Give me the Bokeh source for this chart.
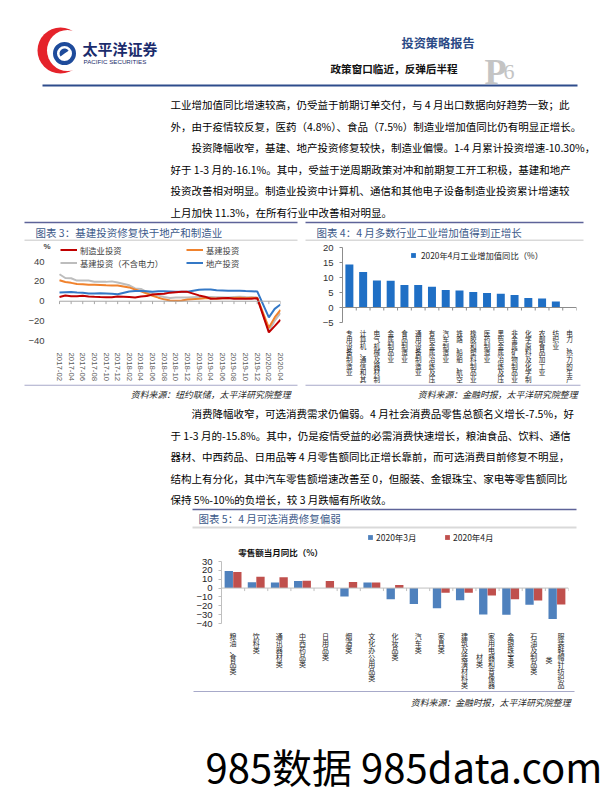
from bokeh.plotting import figure
from bokeh.models import (Range1d, ColumnDataSource, Legend, LegendItem, Label, LabelSet,
                          FixedTicker)
from bokeh.layouts import column, row
from bokeh.embed import file_html
from bokeh.resources import INLINE
from bokeh.core.properties import value
from bokeh.transform import dodge

# ---------------------------------------------------------------- data
header_title = "投资策略报告"
header_subtitle = "政策窗口临近，反弹后半程"
page_letter = "P"
page_number = "6"
logo_cn = "太平洋证券"
logo_en = "PACIFIC SECURITIES"

para1_lines = [
    "工业增加值同比增速较高，仍受益于前期订单交付，与 4 月出口数据向好趋势一致；此",
    "外，由于疫情较反复，医药（4.8%）、食品（7.5%）制造业增加值同比仍有明显正增长。",
    "投资降幅收窄，基建、地产投资修复较快，制造业偏慢。1-4 月累计投资增速-10.30%，",
    "好于 1-3 月的-16.1%。其中，受益于逆周期政策对冲和前期复工开工积极，基建和地产",
    "投资改善相对明显。制造业投资中计算机、通信和其他电子设备制造业投资累计增速较",
    "上月加快 11.3%，在所有行业中改善相对明显。",
]
para1_indent = [False, False, True, False, False, False]

para2_lines = [
    "消费降幅收窄，可选消费需求仍偏弱。4 月社会消费品零售总额名义增长-7.5%，好",
    "于 1-3 月的-15.8%。其中，仍是疫情受益的必需消费快速增长，粮油食品、饮料、通信",
    "器材、中西药品、日用品等 4 月零售额同比正增长靠前，而可选消费目前修复不明显，",
    "结构上有分化，其中汽车零售额增速改善至 0，但服装、金银珠宝、家电等零售额同比",
    "保持 5%-10%的负增长，较 3 月跌幅有所收敛。",
]
para2_indent = [True, False, False, False, False]

chart3_title = "图表 3：基建投资修复快于地产和制造业"
chart3_source = "资料来源：纽约联储，太平洋研究院整理"
chart3_unit = "%"
inv_months = [
    "2017-02", "2017-03", "2017-04", "2017-05", "2017-06", "2017-07", "2017-08",
    "2017-09", "2017-10", "2017-11", "2017-12",
    "2018-02", "2018-03", "2018-04", "2018-05", "2018-06", "2018-07", "2018-08",
    "2018-09", "2018-10", "2018-11", "2018-12",
    "2019-02", "2019-03", "2019-04", "2019-05", "2019-06", "2019-07", "2019-08",
    "2019-09", "2019-10", "2019-11", "2019-12",
    "2020-02", "2020-03", "2020-04",
]
inv_manufacturing = [4.3, 5.8, 5.0, 5.1, 5.5, 4.9, 4.5, 4.2, 4.1, 4.1, 4.8,
                     4.3, 3.8, 4.8, 5.2, 6.8, 7.3, 7.5, 8.7, 9.1, 9.5, 9.5,
                     5.9, 4.6, 2.5, 2.7, 3.0, 3.3, 2.6, 2.5, 2.6, 2.5, 3.1,
                     -31.5, -25.2, -18.8]
inv_infrastructure = [21.3, 19.5, 18.6, 17.5, 17.2, 16.8, 16.7, 16.4, 16.1, 16.0, 16.0,
                      14.0, 11.8, 10.0, 7.8, 5.5, 3.6, 1.9, 0.8, 0.5, 0.8, 1.8,
                      2.5, 3.0, 3.0, 2.6, 2.9, 2.9, 3.2, 3.4, 3.0, 3.5, 3.3,
                      -26.9, -16.4, -8.8]
inv_infra_ex_power = [27.3, 23.5, 23.3, 20.9, 21.1, 20.9, 19.8, 19.8, 19.6, 20.1, 19.0,
                      16.1, 13.0, 12.4, 9.4, 7.3, 5.7, 4.2, 3.3, 3.7, 3.7, 3.8,
                      4.3, 4.4, 4.4, 4.0, 4.1, 3.8, 4.2, 4.5, 4.2, 4.0, 3.8,
                      -30.3, -19.7, -11.8]
inv_real_estate = [8.9, 9.1, 9.3, 8.8, 8.5, 7.9, 7.9, 8.1, 7.8, 7.5, 7.0,
                   9.9, 10.4, 10.3, 10.2, 9.7, 10.2, 10.1, 9.9, 9.7, 9.7, 9.5,
                   11.6, 11.8, 11.9, 11.2, 10.9, 10.6, 10.5, 10.5, 10.3, 10.2, 9.9,
                   -16.3, -7.7, -3.3]
inv_series_names = ["制造业投资", "基建投资", "基建投资（不含电力）", "地产投资"]
inv_ticks = [-40, -20, 0, 20, 40]

chart4_title = "图表 4：4 月多数行业工业增加值得到正增长"
chart4_source = "资料来源：金融时报，太平洋研究院整理"
ind_legend = "2020年4月工业增加值同比（%）"
ind_names = ["专用设备制造业", "计算机、通信和其他电子设备制造业", "电气机械及器材制造业",
             "金属制品业", "食品制造业", "通用设备制造业", "有色金属冶炼及压延加工业",
             "汽车制造业", "铁路、船舶、航空航天和其他运输设备制造业", "橡胶和塑料制品业",
             "医药制造业", "黑色金属冶炼及压延加工业", "非金属矿物制品业",
             "化学原料及化学制品制造业", "农副食品加工业", "纺织业", "电力、热力的生产和供应业"]
ind_growth = [14.3, 11.8, 9.0, 8.9, 7.5, 7.5, 6.9, 5.8, 5.7, 5.2, 4.8, 4.6, 4.2, 3.2, 3.0, 2.0, -0.2]
ind_ticks = [-5, 0, 5, 10, 15, 20]

chart5_title = "图表 5：4 月可选消费修复偏弱"
chart5_source = "资料来源：金融时报，太平洋研究院整理"
retail_axis_title = "零售额当月同比（%）"
retail_series = ["2020年3月", "2020年4月"]
retail_cats = ["粮油、食品类", "饮料类", "通讯器材类", "中西药品类", "日用品类", "烟酒类",
               "文化办公用品类", "化妆品类", "汽车类", "家具类", "建筑及装潢材料类",
               "家用电器和音像器材类", "金银珠宝类", "石油及制品类", "服装鞋帽针纺织品类"]
retail_mar = [19.2, 6.5, 6.2, 8.0, 0.0, -9.5, 6.3, -12.6, -18.1, -22.7, -13.8, -29.7, -30.2, -18.9, -34.8]
retail_apr = [18.2, 12.7, 12.2, 8.3, 8.0, 6.8, 6.4, 3.5, 0.0, -5.4, -5.3, -8.5, -12.7, -14.0, -18.5]
retail_ticks = [-40, -30, -20, -10, 0, 10, 20, 30]

watermark = "985数据 985data.com"

# ---------------------------------------------------------------- styles
CJK = "Noto Sans CJK SC"
PAGE_W = 613
TITLE_BLUE = "#3D5A8A"
RULE_BLUE = "#5E6399"
BAND_GRAY = "#D9D9D9"
BOTTOM_RULE = "#A7A9C9"


def page_fig(top, height):
    p = figure(width=PAGE_W, height=height, x_range=Range1d(0, PAGE_W),
               y_range=Range1d(top + height, top), output_backend="svg",
               toolbar_location=None, x_axis_location=None, y_axis_location=None,
               min_border=0, title=None, frame_align=False)
    p.grid.visible = False
    p.outline_line_color = None
    return p


def txt(p, x, y, s, size, color="#000000", font=CJK, align="left",
        baseline="middle", style="normal"):
    p.text(x=[x], y=[y], text=[s], text_font=value(font), text_font_size=f"{size}px",
           text_color=color, text_align=align, text_baseline=baseline,
           text_font_style=style)


def hrule(p, x0, x1, y, color, width):
    p.segment(x0=[x0], y0=[y], x1=[x1], y1=[y], line_color=color, line_width=width)


def chart_fig(width, height, xr, yr, left, right, top, bottom, xaxis=True):
    p = figure(width=width, height=height, x_range=xr, y_range=yr,
               output_backend="svg", toolbar_location=None, title=None,
               x_axis_location="below" if xaxis else None,
               min_border_left=left, min_border_right=right,
               min_border_top=top, min_border_bottom=bottom, frame_align=False)
    p.grid.visible = False
    p.outline_line_color = None
    return p


BODY_X = 170
BODY_SIZE = 10.5
LINE_STEP = 21.5
ROW_TOP, ROW_BOTTOM = 241, 384

# ---------------------------------------------------------------- top block (page y 0..241)
top = page_fig(0, ROW_TOP)
top.circle(x=[60], y=[50], radius=23, fill_color="#E5232B", line_color=None)
top.circle(x=[67], y=[50], radius=20.5, fill_color="white", line_color=None)
top.circle(x=[64], y=[53], radius=9.5, fill_color=None, line_color="#1E4B9B", line_width=4)
top.wedge(x=[64], y=[53], radius=5, start_angle=0.6, end_angle=3.8,
          fill_color="#1E4B9B", line_color=None)
txt(top, 82, 48, logo_cn, 15, "#1B2C6C", style="bold")
txt(top, 83, 61, logo_en, 6.2, "#1B2C6C", font="Liberation Sans")
txt(top, 401, 42, header_title, 12.2, "#2B4A86", style="bold")
txt(top, 330, 68, header_subtitle, 10.6, "#111111", style="bold")
txt(top, 484, 71, page_letter, 36, "#C4C4C4", font="Liberation Serif",
    baseline="alphabetic", style="bold")
txt(top, 503, 71, page_number, 22, "#C4C4C4", font="Liberation Serif",
    baseline="alphabetic")
hrule(top, 42, 577, 85, "#2E4C8C", 2.2)
for i, (line, ind) in enumerate(zip(para1_lines, para1_indent)):
    txt(top, BODY_X + (2 * BODY_SIZE if ind else 0), 104 + LINE_STEP * i, line, BODY_SIZE)
for x0, x1, title, tx in [(24, 297, chart3_title, 35), (305, 583, chart4_title, 316)]:
    hrule(top, x0, x1, 222, RULE_BLUE, 1.5)
    txt(top, tx, 232, title, 10.5, TITLE_BLUE)
    hrule(top, x0, x1, 240, BAND_GRAY, 2)


# ---------------------------------------------------------------- chart 3 (page x 0..305)
def month_index(m):
    y, mo = m.split("-")
    return (int(y) - 2017) * 12 + (int(mo) - 2)


idx = [month_index(m) for m in inv_months]
C3_Y_HI, C3_Y_LO, C3_FRAME_BOTTOM = 262, 344, 350
C3_LEFT, C3_X0, C3_X1 = 20, 59, 280
u3 = (max(inv_ticks) - min(inv_ticks)) / (C3_Y_LO - C3_Y_HI)
m3 = (max(idx) - min(idx)) / (C3_X1 - C3_X0)
src3 = ColumnDataSource(dict(idx=idx, mfg=inv_manufacturing, infra=inv_infrastructure,
                             ex=inv_infra_ex_power, re=inv_real_estate))
p3 = chart_fig(305, ROW_BOTTOM - ROW_TOP,
               Range1d(min(idx) - (C3_X0 - C3_LEFT) * m3, max(idx)),
               Range1d(min(inv_ticks) - (C3_FRAME_BOTTOM - C3_Y_LO) * u3,
                       max(inv_ticks) + (C3_Y_HI - ROW_TOP) * u3),
               C3_LEFT, 305 - C3_X1, 0, ROW_BOTTOM - C3_FRAME_BOTTOM)
r_ex = p3.line("idx", "ex", source=src3, line_color="#BDBDBD", line_width=2)
r_inf = p3.line("idx", "infra", source=src3, line_color="#F0822D", line_width=2)
r_re = p3.line("idx", "re", source=src3, line_color="#3478C6", line_width=2)
r_mfg = p3.line("idx", "mfg", source=src3, line_color="#C00000", line_width=2)
p3.segment(x0=[min(idx)], x1=[max(idx)], y0=[0], y1=[0], line_color="#A6A6A6", line_width=1)
even_idx = [month_index(m) for m in inv_months if int(m[5:]) % 2 == 0]
p3.segment(x0=even_idx, x1=even_idx, y0=[0] * len(even_idx),
           y1=[-3 * u3] * len(even_idx), line_color="#A6A6A6", line_width=1)
p3.yaxis.fixed_location = min(idx)
p3.yaxis.ticker = FixedTicker(ticks=inv_ticks)
p3.yaxis.axis_line_color = None
p3.yaxis.major_tick_line_color = None
p3.yaxis.minor_tick_line_color = None
p3.yaxis.major_label_standoff = 9
p3.yaxis.major_label_text_font_size = "9.5px"
p3.yaxis.major_label_text_color = "#404040"
p3.xaxis.ticker = FixedTicker(ticks=even_idx)
p3.xaxis.major_label_overrides = {month_index(m): m for m in inv_months if int(m[5:]) % 2 == 0}
p3.xaxis.major_label_orientation = "vertical"
p3.xaxis.axis_line_color = None
p3.xaxis.major_tick_line_color = None
p3.xaxis.minor_tick_line_color = None
p3.xaxis.major_label_standoff = 0
p3.xaxis.major_label_text_font_size = "7.8px"
p3.xaxis.major_label_text_color = "#595959"
p3.add_layout(Label(x=43 - C3_LEFT, y=C3_FRAME_BOTTOM - 250, x_units="screen",
                    y_units="screen", text=chart3_unit, text_font_size="8px",
                    text_font_style="bold", text_baseline="middle",
                    text_font="Liberation Sans"))
leg_style = dict(orientation="vertical", padding=0, margin=0, spacing=0, label_height=13,
                 glyph_height=13, glyph_width=17, label_standoff=3,
                 label_text_font=CJK, label_text_font_size="8.3px",
                 label_text_color="#404040", background_fill_alpha=0, border_line_alpha=0)
LEG3_VY = C3_FRAME_BOTTOM - 273
p3.add_layout(Legend(items=[LegendItem(label=inv_series_names[0], renderers=[r_mfg]),
                            LegendItem(label=inv_series_names[2], renderers=[r_ex])],
                     location=(60 - C3_LEFT, LEG3_VY), **leg_style))
p3.add_layout(Legend(items=[LegendItem(label=inv_series_names[1], renderers=[r_inf]),
                            LegendItem(label=inv_series_names[3], renderers=[r_re])],
                     location=(186 - C3_LEFT, LEG3_VY), **leg_style))

# ---------------------------------------------------------------- chart 4 (page x 305..613)
n4 = len(ind_names)
C4_Y_HI, C4_Y_LO = 247, 322
u4 = (max(ind_ticks) - min(ind_ticks)) / (C4_Y_LO - C4_Y_HI)
src4 = ColumnDataSource(dict(x=list(range(n4)), v=ind_growth))
p4 = chart_fig(308, ROW_BOTTOM - ROW_TOP, Range1d(-0.5, n4 - 0.5),
               Range1d(min(ind_ticks) - (ROW_BOTTOM - C4_Y_LO) * u4,
                       max(ind_ticks) + (C4_Y_HI - ROW_TOP) * u4),
               37, 37, 0, 0, xaxis=False)
r4 = p4.vbar(x="x", top="v", width=0.58, source=src4, fill_color="#1F6FC5", line_color=None)
p4.segment(x0=[-0.5], x1=[n4 - 0.5], y0=[0], y1=[0], line_color="#8C8C8C", line_width=1)
b4 = [i - 0.5 for i in range(n4 + 1)]
p4.segment(x0=b4, x1=b4, y0=[0] * len(b4), y1=[-3 * u4] * len(b4),
           line_color="#8C8C8C", line_width=1)
p4.yaxis.bounds = (min(ind_ticks), max(ind_ticks))
p4.yaxis.ticker = FixedTicker(ticks=ind_ticks)
p4.yaxis.axis_line_color = "#8C8C8C"
p4.yaxis.major_tick_line_color = "#8C8C8C"
p4.yaxis.major_tick_out = 3
p4.yaxis.major_tick_in = 0
p4.yaxis.minor_tick_line_color = None
p4.yaxis.major_label_standoff = 6
p4.yaxis.major_label_text_font_size = "9.5px"
p4.yaxis.major_label_text_color = "#333333"
p4.add_layout(Legend(items=[LegendItem(label=ind_legend, renderers=[r4])],
                     location=(68, ROW_BOTTOM - 261),
                     orientation="horizontal", padding=0, margin=0, spacing=0,
                     label_height=12, glyph_height=6, glyph_width=6, label_standoff=5,
                     label_text_font=CJK, label_text_font_size="8.3px",
                     label_text_color="#262626", background_fill_alpha=0,
                     border_line_alpha=0))
cx, cy, ct = [], [], []
for i, name in enumerate(ind_names):
    for k, ch in enumerate(name[:8]):
        cx.append(i)
        cy.append(ROW_BOTTOM - 327 - 6.6 * k)
        ct.append(ch)
p4.add_layout(LabelSet(x="x", y="y", text="t", source=ColumnDataSource(dict(x=cx, y=cy, t=ct)),
                       x_units="data", y_units="screen", text_align="center",
                       text_baseline="top", text_font=value(CJK), text_font_size="6.6px",
                       text_color="#262626"))

# ---------------------------------------------------------------- middle block (page y 384..531)
MID_BOTTOM = 531
mid = page_fig(ROW_BOTTOM, MID_BOTTOM - ROW_BOTTOM)
hrule(mid, 24, 297, ROW_BOTTOM + 0.7, BOTTOM_RULE, 1.2)
hrule(mid, 305, 580, ROW_BOTTOM + 0.7, BOTTOM_RULE, 1.2)
txt(mid, 290, 394, chart3_source, 8.9, "#262626", align="right", style="italic")
txt(mid, 577, 394, chart4_source, 8.9, "#262626", align="right", style="italic")
for i, (line, ind) in enumerate(zip(para2_lines, para2_indent)):
    txt(mid, BODY_X + (2 * BODY_SIZE if ind else 0), 413 + LINE_STEP * i, line, BODY_SIZE)
hrule(mid, 192, 576, 509, RULE_BLUE, 1.5)
txt(mid, 198, 517.5, chart5_title, 10.5, TITLE_BLUE)
hrule(mid, 192, 576, 527, BAND_GRAY, 2)

# ---------------------------------------------------------------- chart 5 (page y 531..690)
n5 = len(retail_cats)
C5_Y_HI, C5_Y_LO, C5_BOTTOM = 561, 623, 690
u5 = (max(retail_ticks) - min(retail_ticks)) / (C5_Y_LO - C5_Y_HI)
src5 = ColumnDataSource(dict(x=list(range(n5)), mar=retail_mar, apr=retail_apr))
p5 = chart_fig(PAGE_W, C5_BOTTOM - MID_BOTTOM, Range1d(-0.5, n5 - 0.5),
               Range1d(min(retail_ticks) - (C5_BOTTOM - C5_Y_LO) * u5,
                       max(retail_ticks) + (C5_Y_HI - MID_BOTTOM) * u5),
               221, 45, 0, 0, xaxis=False)
r_mar = p5.vbar(x=dodge("x", -0.185, range=p5.x_range), top="mar", width=0.36, source=src5,
                fill_color="#4F81BD", line_color=None)
r_apr = p5.vbar(x=dodge("x", 0.185, range=p5.x_range), top="apr", width=0.36, source=src5,
                fill_color="#C0504D", line_color=None)
p5.segment(x0=[-0.5], x1=[n5 - 0.5], y0=[0], y1=[0], line_color="#BFBFBF", line_width=1)
b5 = [i - 0.5 for i in range(n5 + 1)]
p5.segment(x0=b5, x1=b5, y0=[0] * len(b5), y1=[-3 * u5] * len(b5),
           line_color="#BFBFBF", line_width=1)
p5.yaxis.bounds = (min(retail_ticks), max(retail_ticks))
p5.yaxis.ticker = FixedTicker(ticks=retail_ticks)
p5.yaxis.axis_line_color = "#BFBFBF"
p5.yaxis.major_tick_line_color = "#BFBFBF"
p5.yaxis.major_tick_out = 3
p5.yaxis.major_tick_in = 0
p5.yaxis.minor_tick_line_color = None
p5.yaxis.major_label_standoff = 6
p5.yaxis.major_label_text_font_size = "9.5px"
p5.yaxis.major_label_text_color = "#262626"
for rr, lab, vx in [(r_mar, retail_series[0], 146), (r_apr, retail_series[1], 223)]:
    p5.add_layout(Legend(items=[LegendItem(label=lab, renderers=[rr])],
                         location=(vx, C5_BOTTOM - 543),
                         orientation="horizontal", padding=0, margin=0, spacing=0,
                         label_height=10, glyph_height=6, glyph_width=6, label_standoff=3,
                         label_text_font=CJK, label_text_font_size="8.5px",
                         label_text_color="#262626", background_fill_alpha=0,
                         border_line_alpha=0))
p5.add_layout(Label(x=59, y=C5_BOTTOM - 551, x_units="screen", y_units="screen",
                    text=retail_axis_title, text_align="center", text_baseline="middle",
                    text_font=CJK, text_font_size="8.5px", text_font_style="bold",
                    text_color="#111111"))
cx, cy, ct, cd = [], [], [], []
for i, name in enumerate(retail_cats):
    col1, col2 = name[:8], name[8:]
    for k, ch in enumerate(col1):
        cx.append(i); cy.append(C5_BOTTOM - 630 - 7 * k); ct.append(ch)
        cd.append(4 if col2 else 0)
    shift = (len(col1) - len(col2)) * 7 / 2
    for k, ch in enumerate(col2):
        cx.append(i); cy.append(C5_BOTTOM - 630 - shift - 7 * k); ct.append(ch); cd.append(-8)
p5.add_layout(LabelSet(x="x", y="y", text="t", x_offset="dx",
                       source=ColumnDataSource(dict(x=cx, y=cy, t=ct, dx=cd)),
                       x_units="data", y_units="screen", text_align="center",
                       text_baseline="top", text_font=value(CJK), text_font_size="7px",
                       text_color="#262626"))

# ---------------------------------------------------------------- bottom block (page y 690..793)
bot = page_fig(C5_BOTTOM, 793 - C5_BOTTOM)
hrule(bot, 193, 574, 691, BOTTOM_RULE, 1.2)
txt(bot, 570, 702, chart5_source, 8.9, "#262626", align="right", style="italic")
txt(bot, 205, 765, watermark, 40, "#000000", font=CJK, baseline="middle")

page = column(top, row(p3, p4, spacing=0), mid, p5, bot, spacing=0)
open("out.html", "w").write(file_html(page, INLINE))
